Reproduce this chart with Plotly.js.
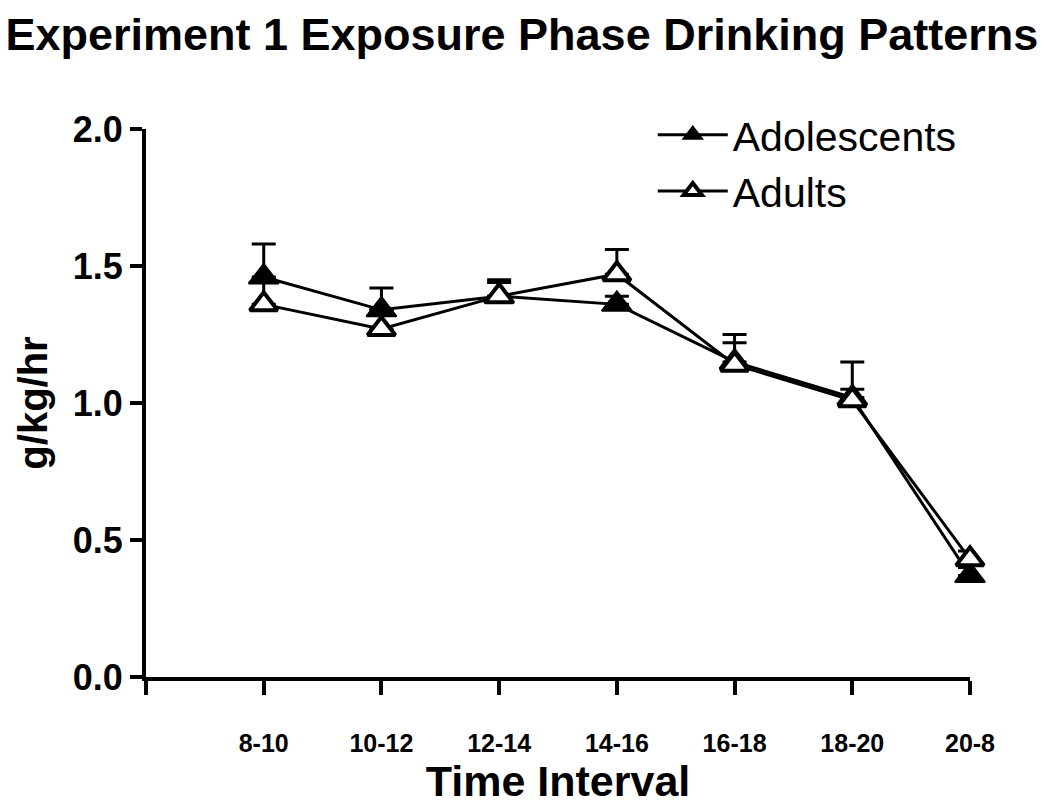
<!DOCTYPE html>
<html>
<head>
<meta charset="utf-8">
<script src="https://cdn.plot.ly/plotly-3.0.1.min.js"></script>
<style>html,body{margin:0;padding:0;background:#fff;}#chart{width:1050px;height:805px;}</style>
</head>
<body>
<div id="chart"></div>
<script>
// Data
const categories = ["8-10", "10-12", "12-14", "14-16", "16-18", "18-20", "20-8"];
const adolescents = [1.46, 1.34, 1.39, 1.36, 1.15, 1.02, 0.37];
const adolescentsSEM = [0.12, 0.08, 0.06, 0.03, 0.10, 0.13, 0.03];
const adults = [1.36, 1.27, 1.39, 1.47, 1.14, 1.01, 0.43];
const adultsSEM = [0.09, 0.07, 0.05, 0.09, 0.08, 0.04, 0.03];
const yTicks = [0.0, 0.5, 1.0, 1.5, 2.0];

const xIdx = categories.map((c, i) => i);
const zeros = categories.map(() => 0);
const FONT = "Liberation Sans, Arial, Helvetica, sans-serif";

const traces = [
  {
    name: "Adolescents",
    x: xIdx, y: adolescents,
    type: "scatter", mode: "lines+markers",
    line: {color: "#000", width: 3},
    marker: {symbol: "triangle-up", size: 26, color: "#000", line: {color: "#000", width: 2}},
    error_y: {type: "data", symmetric: false, array: adolescentsSEM, arrayminus: zeros, color: "#000", thickness: 3, width: 12},
    cliponaxis: false
  },
  {
    name: "Adults",
    x: xIdx, y: adults,
    type: "scatter", mode: "lines+markers",
    line: {color: "#000", width: 3},
    marker: {symbol: "triangle-up", size: 24, color: "#fff", line: {color: "#000", width: 4}},
    error_y: {type: "data", symmetric: false, array: adultsSEM, arrayminus: zeros, color: "#000", thickness: 3, width: 12},
    cliponaxis: false
  }
];

const layout = {
  width: 1050, height: 805,
  paper_bgcolor: "#fff", plot_bgcolor: "#fff",
  margin: {l: 146, r: 80, t: 129, b: 128},
  font: {family: FONT, color: "#000"},
  title: {
    text: "Experiment 1 Exposure Phase Drinking Patterns",
    font: {family: FONT, size: 45, weight: "bold", color: "#000"},
    xref: "container", x: 0.497, xanchor: "center",
    yref: "container", y: 0.958, yanchor: "middle"
  },
  xaxis: {
    range: [-1, 6],
    tickvals: [-1].concat(xIdx),
    ticktext: [""].concat(categories),
    showgrid: false, zeroline: false,
    showline: true, linecolor: "#000", linewidth: 4,
    ticks: "outside", ticklen: 14, tickwidth: 4, tickcolor: "#000",
    ticklabelstandoff: 27,
    tickfont: {family: FONT, size: 25, weight: "bold", color: "#000"},
    title: {text: "Time Interval", font: {family: FONT, size: 43, weight: "bold", color: "#000"}, standoff: 4}
  },
  yaxis: {
    range: [0, 2],
    tickvals: yTicks,
    ticktext: yTicks.map(v => v.toFixed(1)),
    showgrid: false, zeroline: false,
    showline: true, linecolor: "#000", linewidth: 4,
    ticks: "outside", ticklen: 12, tickwidth: 4, tickcolor: "#000",
    tickfont: {family: FONT, size: 36, weight: "bold", color: "#000"},
    title: {text: "g/kg/hr", font: {family: FONT, size: 40, weight: "bold", color: "#000"}, standoff: 14}
  },
  showlegend: true,
  legend: {
    x: 0.615, xanchor: "left", y: 1.05, yanchor: "top",
    bgcolor: "rgba(0,0,0,0)",
    font: {family: FONT, size: 41, color: "#000"},
    tracegroupgap: 0, itemsizing: "trace", itemwidth: 70
  }
};

Plotly.newPlot("chart", traces, layout, {displayModeBar: false, staticPlot: true});
</script>
</body>
</html>
